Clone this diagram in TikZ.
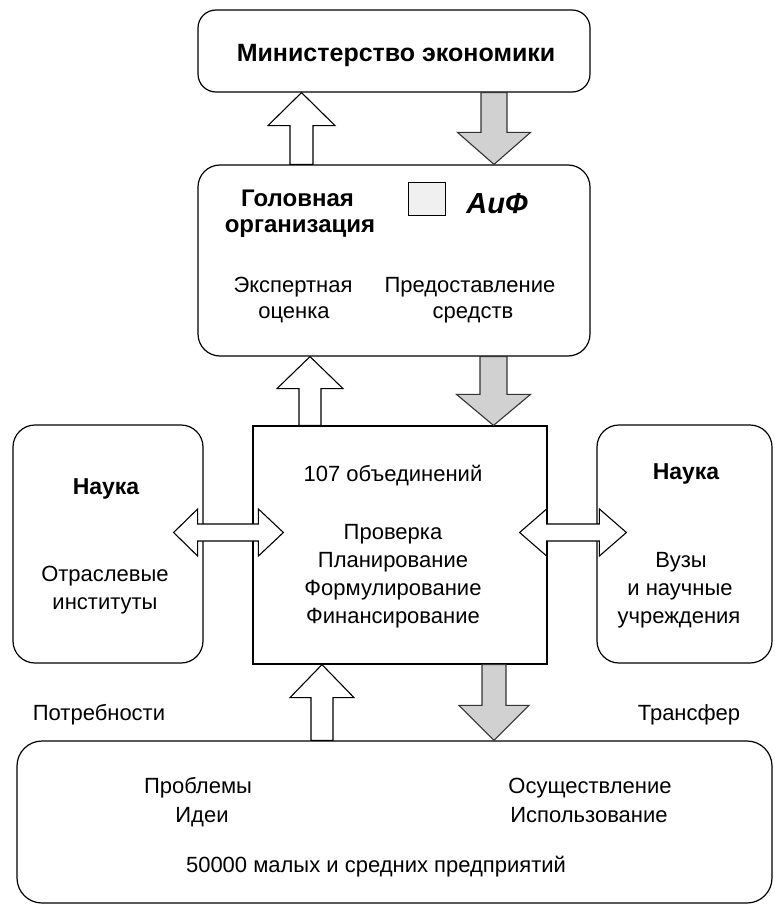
\documentclass[tikz,border=0pt]{standalone}
\usepackage{fontspec}
\setmainfont{Liberation Sans}
\usetikzlibrary{calc}
\tikzset{
  box/.style={draw, line width=1.2pt, inner sep=0pt, rounded corners=#1},
  box/.default=20pt,
  sqbox/.style={draw, line width=1.2pt, inner sep=0pt},
  txt/.style={anchor=base, inner sep=0pt, font=\fontsize{22}{26}\selectfont},
  txtb/.style={anchor=base, inner sep=0pt, font=\fontsize{24}{28}\selectfont\bfseries},
  txtn/.style={anchor=base, inner sep=0pt, font=\fontsize{23}{27}\selectfont\bfseries},
  uparrow/.style={draw, line width=1.1pt, fill=white, line join=miter},
  dnarrow/.style={draw=black!80, line width=1.1pt, fill=black!18, line join=miter},
}
% #1 x, #2 tail anchor, #3 tip anchor, #4 shaft half, #5 head half, #6 head length
\newcommand\uparr[6]{%
  \draw[uparrow] let \p1=(#2), \p2=(#3) in
    ({(#1-#4)*1pt},\y1) -- ({(#1-#4)*1pt},\y2-#6pt) -- ({(#1-#5)*1pt},\y2-#6pt)
    -- ({#1*1pt},\y2) -- ({(#1+#5)*1pt},\y2-#6pt) -- ({(#1+#4)*1pt},\y2-#6pt)
    -- ({(#1+#4)*1pt},\y1) -- cycle;}
\newcommand\dnarr[6]{%
  \draw[dnarrow] let \p1=(#2), \p2=(#3) in
    ({(#1-#4)*1pt},\y1) -- ({(#1-#4)*1pt},\y2+#6pt) -- ({(#1-#5)*1pt},\y2+#6pt)
    -- ({#1*1pt},\y2) -- ({(#1+#5)*1pt},\y2+#6pt) -- ({(#1+#4)*1pt},\y2+#6pt)
    -- ({(#1+#4)*1pt},\y1) -- cycle;}
% #1 y, #2 left node anchor, #3 right node anchor, #4 tipL off, #5 baseL off, #6 baseR off, #7 tipR off
\newcommand\dblarr[7]{%
  \draw[uparrow] let \p1=(#2), \p2=(#3) in
    (\x1-#4pt,{#1*1pt}) -- (\x1-#5pt,{(#1+23.5)*1pt}) -- (\x1-#5pt,{(#1+8.5)*1pt})
    -- (\x2+#6pt,{(#1+8.5)*1pt}) -- (\x2+#6pt,{(#1+23.5)*1pt}) -- (\x2+#7pt,{#1*1pt})
    -- (\x2+#6pt,{(#1-23.5)*1pt}) -- (\x2+#6pt,{(#1-8.5)*1pt}) -- (\x1-#5pt,{(#1-8.5)*1pt})
    -- (\x1-#5pt,{(#1-23.5)*1pt}) -- cycle;}
\begin{document}
\begin{tikzpicture}[x=1pt,y=1pt]
\useasboundingbox[fill=white] (0,0) rectangle (774,-904);

% boxes
\node[box=18pt, minimum width=392pt, minimum height=82pt] (mino) at (394,-51) {};
\node[box=22pt, minimum width=392pt, minimum height=191pt] (head) at (394,-260.5) {};
\node[sqbox, minimum width=294pt, minimum height=238pt] (obj) at (400,-545) {};
\node[box=22pt, minimum width=190pt, minimum height=238pt] (nl) at (108,-544) {};
\node[box=22pt, minimum width=175pt, minimum height=238pt] (nr) at (684.5,-544) {};
\node[box=25pt, minimum width=755pt, minimum height=162pt] (ent) at (394.5,-822) {};

% block arrows
\uparr{301.5}{head.north}{mino.south}{11.5}{33.5}{33}
\dnarr{494}{mino.south}{head.north}{13}{36.5}{32}
\uparr{310}{obj.north}{head.south}{11}{33}{32}
\dnarr{493.5}{head.south}{obj.north}{13.5}{37}{31}
\uparr{322}{ent.north}{obj.south}{11}{32}{33}
\dnarr{494}{obj.south}{ent.north}{12}{35}{35}
\dblarr{-532.5}{nl.east}{obj.west}{30}{6}{6}{31}
\dblarr{-532.5}{obj.east}{nr.west}{28}{1}{3}{30}

% texts
\node[anchor=base, inner sep=0pt, font=\fontsize{25}{29}\selectfont\bfseries] (tmino) at (396,-62) {Министерство экономики};
\node[txtb] (thead1) at (297.5,-207) {Головная};
\node[txtb] (thead2) at (300,-232) {организация};
\node[draw, line width=1pt, fill=black!6, inner sep=0pt, minimum width=37pt, minimum height=32pt] (sq) at (426.5,-199) {};
\node[anchor=base, inner sep=0pt, font=\fontsize{29}{32}\selectfont\bfseries\itshape] (aif) at (497,-213) {АиФ};
\node[txt] (te1) at (293,-292) {Экспертная};
\node[txt] (te2) at (294,-318) {оценка};
\node[txt] (tp1) at (470,-292) {Предоставление};
\node[txt] (tp2) at (473,-318) {средств};

\node[txt] (to0) at (393,-481) {107 объединений};
\node[txt] (to1) at (393,-539) {Проверка};
\node[txt] (to2) at (393,-567) {Планирование};
\node[txt] (to3) at (393,-595) {Формулирование};
\node[txt] (to4) at (393,-623) {Финансирование};

\node[txtn] (tnl) at (106,-494) {Наука};
\node[txt] (tnl1) at (105,-581) {Отраслевые};
\node[txt] (tnl2) at (105,-609) {институты};

\node[txtn] (tnr) at (686,-479) {Наука};
\node[txt] (tnr1) at (681,-567) {Вузы};
\node[txt] (tnr2) at (680,-595) {и научные};
\node[txt] (tnr3) at (679,-623) {учреждения};

\node[txt] (tneed) at (99,-720) {Потребности};
\node[txt] (ttr) at (689,-720) {Трансфер};
\node[txt] (tb1) at (198,-793) {Проблемы};
\node[txt] (tb2) at (202,-822) {Идеи};
\node[txt] (tb3) at (590,-793) {Осуществление};
\node[txt] (tb4) at (589,-822) {Использование};
\node[txt] (tb5) at (376,-872) {50000 малых и средних предприятий};
\end{tikzpicture}
\end{document}
